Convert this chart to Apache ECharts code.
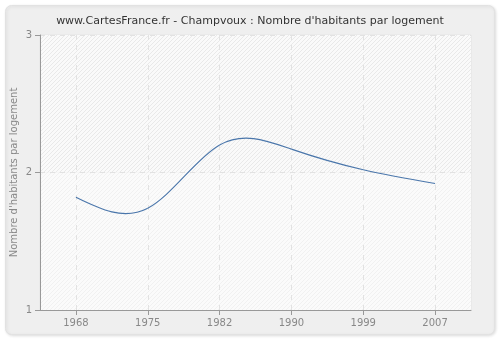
<!DOCTYPE html>
<html><head><meta charset="utf-8">
<script src="https://cdn.jsdelivr.net/npm/echarts@6/dist/echarts.min.js"></script>
<style>html,body{margin:0;padding:0;background:#fff}#c{width:500px;height:340px}</style>
</head><body><div id="c"></div>
<script>
const categories = ['1968', '1975', '1982', '1990', '1999', '2007'];
const values = [1.82, 1.74, 2.20, 2.17, 2.02, 1.92];
const yTicks = [1, 2, 3];
const titleText = "www.CartesFrance.fr - Champvoux : Nombre d'habitants par logement";
const yName = "Nombre d'habitants par logement";

function hatch(bg, fg) {
  const c = document.createElement('canvas');
  c.width = 4; c.height = 4;
  const ctx = c.getContext('2d');
  ctx.fillStyle = bg; ctx.fillRect(0, 0, 4, 4);
  ctx.fillStyle = fg;
  for (let x = 0; x < 4; x++) for (let y = 0; y < 4; y++) if ((x + y) % 4 === 3) ctx.fillRect(x, y, 1, 1);
  return { image: c, repeat: 'repeat' };
}

// natural cubic spline second derivatives (unit spacing)
function naturalM(y) {
  const n = y.length, M = new Array(n).fill(0);
  if (n < 3) return M;
  const c = [], d = [];
  for (let i = 1; i < n - 1; i++) {
    const rhs = 6 * (y[i + 1] - 2 * y[i] + y[i - 1]);
    if (i === 1) { c[i] = 1 / 4; d[i] = rhs / 4; }
    else { const den = 4 - c[i - 1]; c[i] = 1 / den; d[i] = (rhs - d[i - 1]) / den; }
  }
  for (let i = n - 2; i >= 1; i--) M[i] = d[i] - (i < n - 2 ? c[i] * M[i + 1] : 0);
  return M;
}

const chart = echarts.init(document.getElementById('c'), null, { renderer: 'canvas' });
const idx = categories.map((_, i) => i);
const M = naturalM(values);
chart.setOption({
  animation: false,
  backgroundColor: '#ffffff',
  graphic: [{
    type: 'rect', left: 5, top: 5, z: -10,
    shape: { width: 489, height: 329, r: 6 },
    style: { fill: '#efefef', stroke: '#e2e2e2', lineWidth: 1, shadowColor: 'rgba(0,0,0,0.12)', shadowBlur: 3, shadowOffsetX: 1, shadowOffsetY: 1 }
  }],
  title: {
    text: titleText, left: 'center', top: 11,
    textStyle: { fontFamily: 'DejaVu Sans', fontSize: 11, fontWeight: 'normal', color: '#333' }
  },
  grid: { left: 40, right: 29, top: 35, bottom: 30, outerBoundsMode: 'none', containLabel: false,
    show: true, borderColor: '#e4e4e4', borderWidth: 1, backgroundColor: 'transparent' },
  xAxis: {
    type: 'value', min: -0.5, max: categories.length - 0.5,
    axisLine: { show: true, onZero: false, lineStyle: { color: '#999' } },
    axisTick: { show: true, length: 5, customValues: idx, lineStyle: { color: '#999' } },
    axisLabel: { customValues: idx, color: '#888', fontFamily: 'DejaVu Sans', fontSize: 10, margin: 8,
      formatter: v => categories[Math.round(v)] },
    splitLine: { show: true, lineStyle: { color: '#e2e2e2', type: [5, 5] } }
  },
  yAxis: {
    type: 'value', min: 1, max: 3, interval: 1,
    name: yName, nameLocation: 'middle', nameGap: 21, nameMoveOverlap: false,
    nameTextStyle: { color: '#888', fontFamily: 'DejaVu Sans', fontSize: 10 },
    axisLine: { show: true, onZero: false, lineStyle: { color: '#999' } },
    axisTick: { show: true, length: 5, lineStyle: { color: '#999' } },
    axisLabel: { color: '#888', fontFamily: 'DejaVu Sans', fontSize: 10, margin: 8,
      customValues: yTicks },
    splitLine: { show: true, lineStyle: { color: '#e2e2e2', type: [5, 5] } },
    splitArea: { show: true, areaStyle: { color: [hatch('#fbfbfb', '#f1f1f1'), hatch('#fafafa', '#e9e9e9')] } }
  },
  series: [{
    type: 'custom',
    data: values.map((v, i) => [i, v]),
    encode: { x: 0, y: 1 },
    renderItem: function (params, api) {
      if (params.dataIndex !== 0) return null;
      const children = [];
      for (let i = 0; i < values.length - 1; i++) {
        const y0 = values[i], y1 = values[i + 1];
        const s0 = (y1 - y0) - (2 * M[i] + M[i + 1]) / 6;
        const s1 = (y1 - y0) + (M[i] + 2 * M[i + 1]) / 6;
        const p0 = api.coord([i, y0]);
        const p1 = api.coord([i + 1 / 3, y0 + s0 / 3]);
        const p2 = api.coord([i + 2 / 3, y1 - s1 / 3]);
        const p3 = api.coord([i + 1, y1]);
        children.push({
          type: 'bezierCurve',
          shape: { x1: p0[0], y1: p0[1], cpx1: p1[0], cpy1: p1[1], cpx2: p2[0], cpy2: p2[1], x2: p3[0], y2: p3[1] },
          style: { stroke: '#4a76ab', lineWidth: 1.1, fill: null }
        });
      }
      return { type: 'group', children: children };
    }
  }]
});
</script></body></html>
